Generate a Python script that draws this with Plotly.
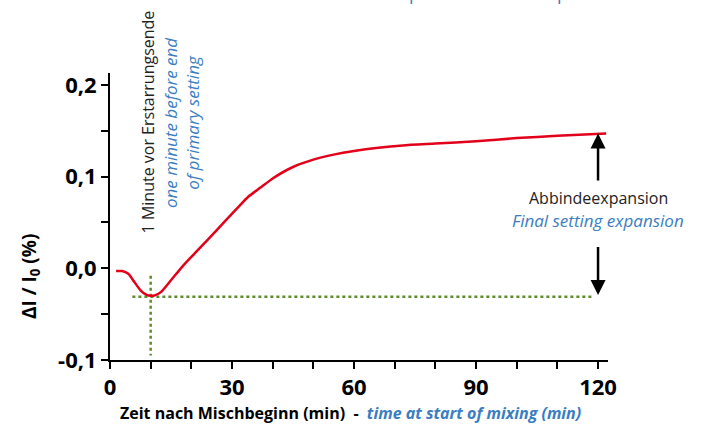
import plotly.graph_objects as go

# expansion curve (time in min, dI/I0 in %)
time_min = [1.5, 3, 4.5, 6, 7.5, 9, 10, 11, 12.5, 15, 18, 21, 24, 28, 32, 34, 37, 40,
            45, 50, 55, 60, 66, 72, 80, 90, 100, 110, 122]
expansion = [-0.003, -0.003, -0.006, -0.015, -0.024, -0.029, -0.030, -0.0295,
             -0.026, -0.013, 0.003, 0.017, 0.031, 0.050, 0.069, 0.078, 0.088, 0.098,
             0.1105, 0.1185, 0.124, 0.128, 0.1315, 0.134, 0.136, 0.1385, 0.142,
             0.1445, 0.147]

# guide lines: minimum at 10 min, final value at 120 min
guide_h_x = [5.5, 118.5]
guide_h_y = [-0.031, -0.031]
guide_v_x = [10, 10]
guide_v_y = [-0.008, -0.095]
final_time = 120
final_value = 0.147
min_value = -0.029

x_tick_vals = [0, 30, 60, 90, 120]
x_tick_text = ["0", "30", "60", "90", "120"]
y_tick_vals = [-0.1, 0.0, 0.1, 0.2]
y_tick_text = ["-0,1", "0,0", "0,1", "0,2"]

RED = "#E2001A"
GREEN = "#5E8C2C"
BLUE = "#3A7DC0"
FONT = "Open Sans"

W, H = 704, 428
L, R, T, B = 110, 96, 73, 68
pw, ph = W - L - R, H - T - B


def px(x, y):
    # pixel position in the picture -> paper coords
    return (x - L) / pw, (H - B - y) / ph


fig = go.Figure()
fig.add_trace(go.Scatter(x=guide_h_x, y=guide_h_y, mode="lines",
                         line=dict(color=GREEN, width=2.5, dash="dot"), hoverinfo="skip"))
fig.add_trace(go.Scatter(x=guide_v_x, y=guide_v_y, mode="lines",
                         line=dict(color=GREEN, width=2.5, dash="dot"), hoverinfo="skip"))
fig.add_trace(go.Scatter(x=time_min, y=expansion, mode="lines",
                         line=dict(color=RED, width=2.5, shape="spline", smoothing=0.6)))

# arrows marking the final setting expansion
fig.add_annotation(x=final_time, y=final_value, ax=final_time, ay=0.094,
                   xref="x", yref="y", axref="x", ayref="y", text="",
                   showarrow=True, arrowhead=2, arrowsize=1.2, arrowwidth=2.5, arrowcolor="black")
fig.add_annotation(x=final_time, y=min_value, ax=final_time, ay=0.025,
                   xref="x", yref="y", axref="x", ayref="y", text="",
                   showarrow=True, arrowhead=2, arrowsize=1.2, arrowwidth=2.5, arrowcolor="black")
fig.add_annotation(x=final_time, y=0.0765, xref="x", yref="y", showarrow=False,
                   text="Abbindeexpansion", font=dict(family=FONT, size=16, color="#222"))
fig.add_annotation(x=final_time, y=0.052, xref="x", yref="y", showarrow=False,
                   text="<i>Final setting expansion</i>", font=dict(family=FONT, size=17, color=BLUE))

# rotated note near the minimum
fig.add_annotation(x=9.3, y=0.160, xref="x", yref="y", showarrow=False, textangle=-90,
                   text="1 Minute vor Erstarrungsende", font=dict(family=FONT, size=16, color="#222"))
fig.add_annotation(x=17.6, y=0.159, xref="x", yref="y", showarrow=False, textangle=-90,
                   text="<i>one minute before end<br>of primary setting</i>",
                   font=dict(family=FONT, size=17, color=BLUE))

# title cut off at the top edge
tx, ty = px(493, 7)
fig.add_annotation(x=tx, y=ty, xref="paper", yref="paper", showarrow=False,
                   xanchor="center", yanchor="bottom",
                   text="Example curve of an expansion", font=dict(family=FONT, size=18, color=BLUE))

# axis titles
ax_, ay_ = px(30, 277)
fig.add_annotation(x=ax_, y=ay_, xref="paper", yref="paper", showarrow=False,
                   xanchor="center", yanchor="middle", textangle=-90,
                   text="<b>ΔI / I<sub>0</sub> (%)</b>", font=dict(family=FONT, size=19, color="black"))
bx, by = px(350, 413)
fig.add_annotation(x=bx, y=by, xref="paper", yref="paper", showarrow=False,
                   xanchor="center", yanchor="middle",
                   text="<b>Zeit nach Mischbeginn (min)  -  </b><b><i><span style='color:%s'>time at start of mixing (min)</span></i></b>" % BLUE,
                   font=dict(family=FONT, size=16, color="black"))

fig.update_layout(
    width=W, height=H, showlegend=False,
    margin=dict(l=L, r=R, t=T, b=B),
    plot_bgcolor="white", paper_bgcolor="white",
    font=dict(family=FONT, color="black"),
    xaxis=dict(range=[0, 122.45], showgrid=False, zeroline=False,
               showline=True, linecolor="black", linewidth=2,
               ticks="outside", ticklen=7, tickwidth=2, tickcolor="black",
               tickvals=x_tick_vals, ticktext=x_tick_text,
               tickfont=dict(family=FONT, size=22, color="black", weight="bold"),
               minor=dict(dtick=10, tick0=0, ticks="outside", ticklen=7, tickwidth=2, tickcolor="black")),
    yaxis=dict(range=[-0.1, 0.213], showgrid=False, zeroline=False,
               showline=True, linecolor="black", linewidth=2,
               ticks="outside", ticklen=7, tickwidth=2, tickcolor="black",
               tickvals=y_tick_vals, ticktext=y_tick_text,
               tickfont=dict(family=FONT, size=22, color="black", weight="bold"),
               minor=dict(dtick=0.05, tick0=0, ticks="outside", ticklen=7, tickwidth=2, tickcolor="black")),
)

fig.write_html("out.html", config={"displayModeBar": False},
               post_script="document.body.style.margin='0';")
